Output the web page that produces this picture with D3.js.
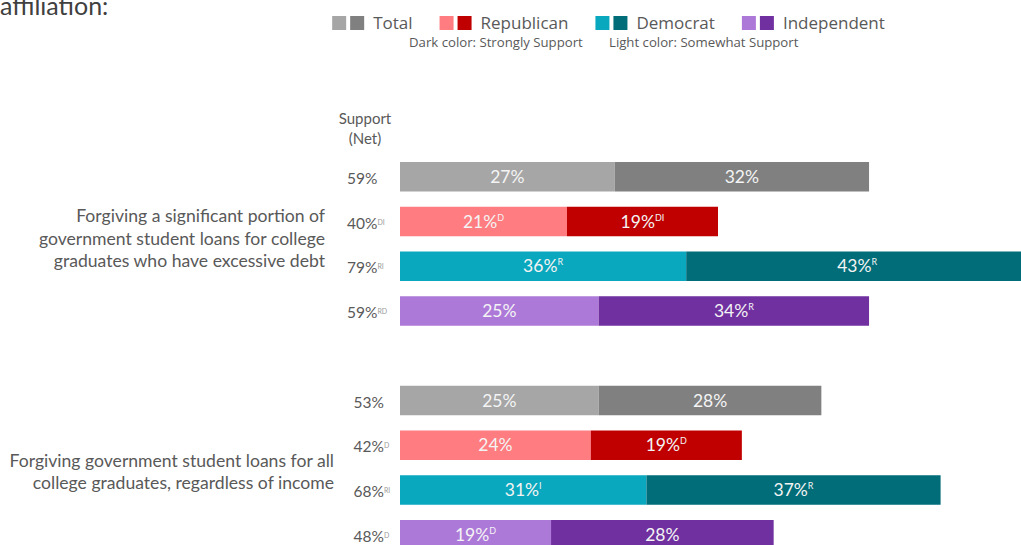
<!DOCTYPE html>
<html>
<head>
<meta charset="utf-8">
<script src="https://cdn.jsdelivr.net/npm/d3@7"></script>
<style>
  html, body { margin: 0; padding: 0; background: #ffffff; overflow: hidden; }
  svg { display: block; }
</style>
</head>
<body>
<script>
// Support for student loan forgiveness, by party affiliation
const questionLines = [
  ["Forgiving a significant portion of", "government student loans for college", "graduates who have excessive debt"],
  ["Forgiving government student loans for all", "college graduates, regardless of income"]
];
const groups = ["Total", "Republican", "Democrat", "Independent"];
const lightColors = ["#a6a6a6", "#ff7c80", "#0aa8be", "#ad79d9"];
const darkColors  = ["#808080", "#c00000", "#016d78", "#7030a0"];

// Somewhat support (light) and strongly support (dark), percent
const somewhat = [[27, 21, 36, 25], [25, 24, 31, 19]];
const strongly = [[32, 19, 43, 34], [28, 19, 37, 28]];
// Net support and significance markers
const netSupport = [[59, 40, 79, 59], [53, 42, 68, 48]];
const netSup      = [["", "DI", "RI", "RD"], ["", "D", "RI", "D"]];
const somewhatSup = [["", "D", "R", ""], ["", "", "I", "D"]];
const stronglySup = [["", "DI", "R", "R"], ["", "D", "R", ""]];

const W = 1021, H = 545;
const FONT = "Lato, 'Open Sans', sans-serif";

const svg = d3.select("body").append("svg")
  .attr("width", W).attr("height", H)
  .style("font-family", FONT);

// one slot per bar, with an empty slot between the two questions
const step = 44.75, bh = 29.5, barTop = 162;
const x = d3.scaleLinear().domain([0, 100]).range([400, 1195]);
const y = d3.scaleBand().domain(d3.range(9))
  .range([barTop, barTop + 8 * step + bh])
  .paddingInner(1 - bh / step).paddingOuter(0);

const rows = [];
questionLines.forEach((q, qi) => {
  groups.forEach((g, gi) => {
    rows.push({
      qi, gi, slot: qi * 5 + gi,
      somewhat: somewhat[qi][gi], strongly: strongly[qi][gi],
      net: netSupport[qi][gi], netSup: netSup[qi][gi],
      sSup: somewhatSup[qi][gi], dSup: stronglySup[qi][gi]
    });
  });
});

// heading, continued from above the frame
svg.append("text").attr("x", 0).attr("y", 15)
  .attr("font-size", 25).attr("fill", "#404040").text("affiliation:");

// legend
const legend = svg.append("g");
let lx = 0;
groups.forEach((g, i) => {
  const item = legend.append("g").attr("transform", `translate(${lx},0)`);
  item.append("rect").attr("x", 0).attr("y", 16).attr("width", 14).attr("height", 14).attr("fill", lightColors[i]);
  item.append("rect").attr("x", 18).attr("y", 16).attr("width", 14).attr("height", 14).attr("fill", darkColors[i]);
  const t = item.append("text").attr("x", 41).attr("y", 29)
    .attr("font-family", "'Open Sans', sans-serif")
    .attr("font-size", 17).attr("fill", "#595959").text(g);
  lx += 41 + t.node().getComputedTextLength() + 27;
});
const legendW = lx - 27;
legend.attr("transform", `translate(${608.5 - legendW / 2},0)`);

svg.append("text").attr("x", 409).attr("y", 47)
  .attr("font-family", "'Open Sans', sans-serif")
  .attr("font-size", 13.2).attr("fill", "#595959").text("Dark color: Strongly Support");
svg.append("text").attr("x", 609).attr("y", 47)
  .attr("font-family", "'Open Sans', sans-serif")
  .attr("font-size", 13.2).attr("fill", "#595959").text("Light color: Somewhat Support");

// column header
svg.append("text").attr("x", 365).attr("y", 124).attr("text-anchor", "middle")
  .attr("font-size", 15).attr("fill", "#595959").text("Support");
svg.append("text").attr("x", 365).attr("y", 144).attr("text-anchor", "middle")
  .attr("font-size", 15).attr("fill", "#595959").text("(Net)");

// question labels
const labelShift = [1, 10.5];
const labelRight = [325, 334];
questionLines.forEach((lines, qi) => {
  const c = (y(qi * 5) + y(qi * 5 + 3) + bh) / 2;
  const t = svg.append("text").attr("text-anchor", "end")
    .attr("font-size", 17.6).attr("fill", "#595959");
  lines.forEach((ln, li) => {
    t.append("tspan").attr("x", labelRight[qi])
      .attr("y", c + (li - (lines.length - 1) / 2) * 22.5 + labelShift[qi])
      .text(ln);
  });
});

// bars
const bars = svg.append("g").selectAll("g").data(rows).join("g");
bars.append("rect")
  .attr("x", x(0)).attr("y", d => y(d.slot))
  .attr("width", d => x(d.somewhat) - x(0)).attr("height", y.bandwidth())
  .attr("fill", d => lightColors[d.gi]);
bars.append("rect")
  .attr("x", d => x(d.somewhat)).attr("y", d => y(d.slot))
  .attr("width", d => x(d.somewhat + d.strongly) - x(d.somewhat)).attr("height", y.bandwidth())
  .attr("fill", d => darkColors[d.gi]);

function valueLabel(sel, cx, val, sup) {
  const t = sel.append("text")
    .attr("x", cx).attr("text-anchor", "middle")
    .attr("font-size", 17.5).attr("fill", "#f4f4f4");
  t.append("tspan").text(d => val(d) + "%");
  t.append("tspan").attr("font-size", 9).attr("dy", -7).text(d => sup(d));
  return t;
}
valueLabel(bars, d => (x(0) + x(d.somewhat)) / 2, d => d.somewhat, d => d.sSup)
  .attr("y", d => y(d.slot) + y.bandwidth() / 2 + 6);
valueLabel(bars, d => (x(d.somewhat) + x(d.somewhat + d.strongly)) / 2, d => d.strongly, d => d.dSup)
  .attr("y", d => y(d.slot) + y.bandwidth() / 2 + 6);

// net support column
const netX = [347, 353.5];
const net = bars.append("text")
  .attr("x", d => netX[d.qi])
  .attr("y", d => y(d.slot) + y.bandwidth() / 2 + 7)
  .attr("font-size", 15.5).attr("fill", "#595959");
net.append("tspan").text(d => d.net + "%");
net.append("tspan").attr("font-size", 7).attr("dy", -4).attr("fill", "#9a9a9a").text(d => d.netSup);
</script>
</body>
</html>
